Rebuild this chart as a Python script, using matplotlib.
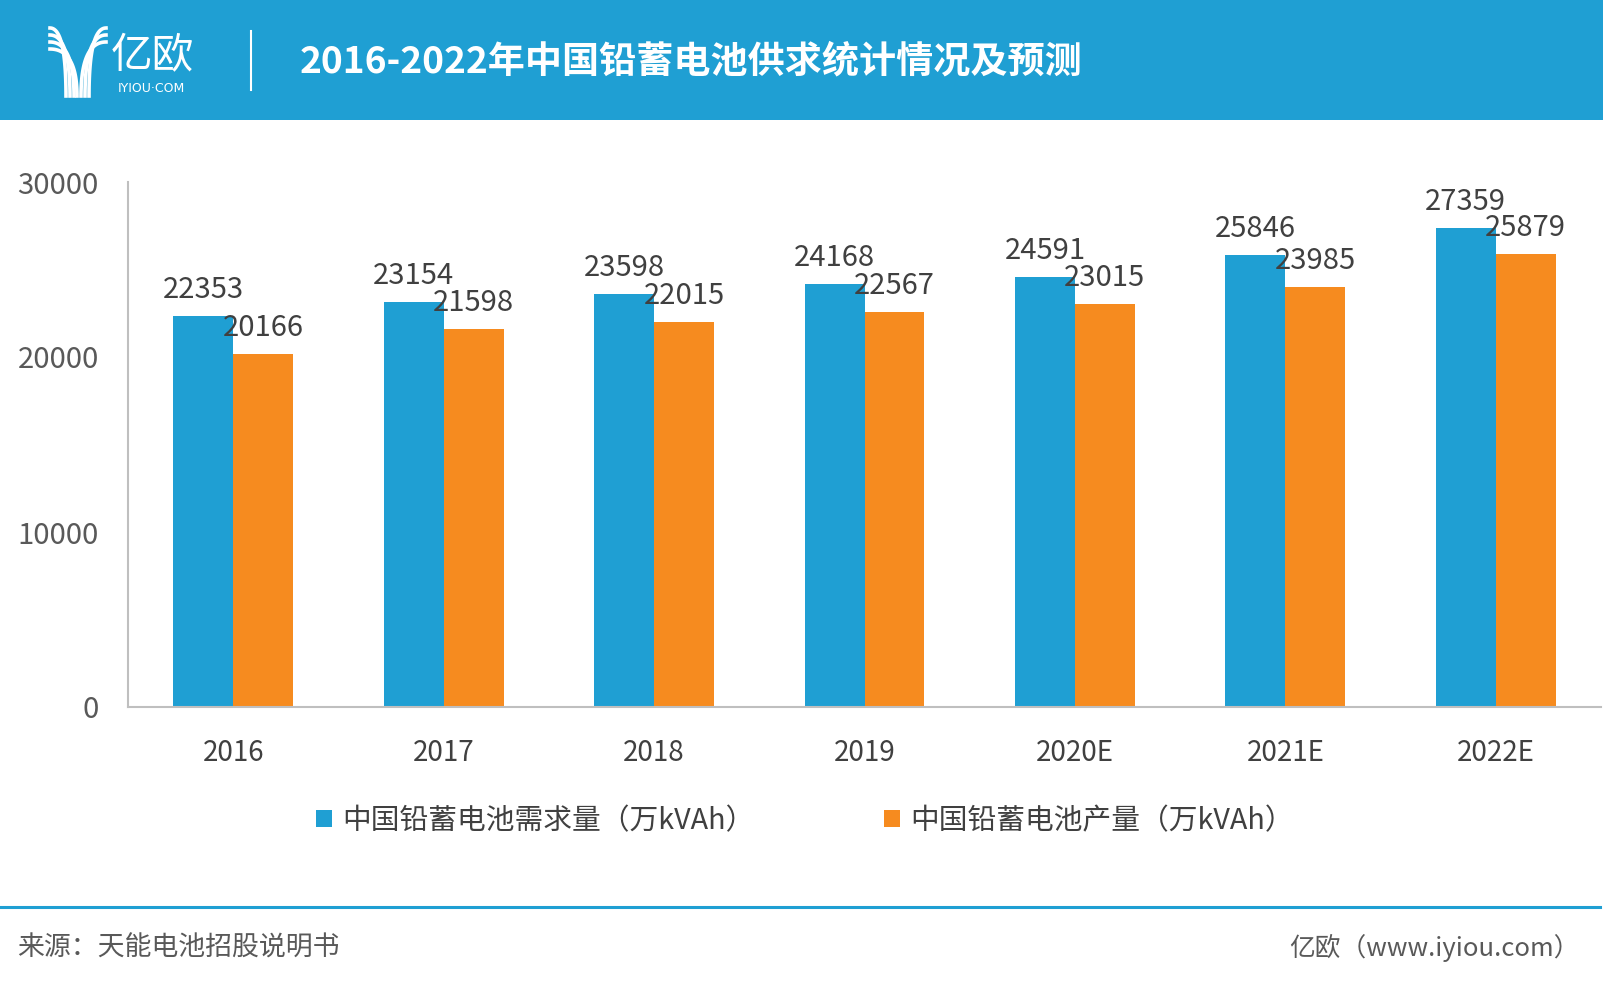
"""2016-2022 China lead-acid battery supply/demand chart (iyiou style)."""
import numpy as np
import matplotlib.pyplot as plt
from matplotlib.patches import Rectangle
from matplotlib.lines import Line2D

plt.rcParams["font.family"] = ["Noto Sans CJK SC", "DejaVu Sans"]

BLUE = "#1f9fd3"
ORANGE = "#f68b1f"
TEXT = "#404040"
GREY = "#595959"

YEARS = ["2016", "2017", "2018", "2019", "2020E", "2021E", "2022E"]
DEMAND = [22353, 23154, 23598, 24168, 24591, 25846, 27359]
OUTPUT = [20166, 21598, 22015, 22567, 23015, 23985, 25879]
SERIES_NAMES = ["中国铅蓄电池需求量（万kVAh）", "中国铅蓄电池产量（万kVAh）"]

TITLE = "2016-2022年中国铅蓄电池供求统计情况及预测"
SOURCE = "来源：天能电池招股说明书"
CREDIT = "亿欧（www.iyiou.com）"

W, H = 1603, 986


def fx(px):
    return px / W


def fy(py):
    return 1 - py / H


def draw_logo(fig):
    """Rough white 'Y' logo made of curved strokes, in pixel coords."""
    t = np.linspace(0, 1, 40)
    lw = 2.6
    # left strokes: start near horizontal at the left, bend down into the stem
    for y0, xs in [(28, 66), (35, 70), (42, 74), (49, 77)]:
        x0 = 50
        px = (1 - t) ** 2 * x0 + 2 * (1 - t) * t * xs + t ** 2 * xs
        py = (1 - t) ** 2 * y0 + 2 * (1 - t) * t * y0 + t ** 2 * 96
        fig.add_artist(Line2D(fx(px), fy(py), color="white", lw=lw,
                              transform=fig.transFigure))
    # right strokes
    for y0, xs in [(28, 89), (35, 85), (42, 81)]:
        x0 = 106
        px = (1 - t) ** 2 * x0 + 2 * (1 - t) * t * xs + t ** 2 * xs
        py = (1 - t) ** 2 * y0 + 2 * (1 - t) * t * y0 + t ** 2 * 96
        fig.add_artist(Line2D(fx(px), fy(py), color="white", lw=lw,
                              transform=fig.transFigure))
    fig.text(fx(111), fy(57), "亿欧", color="white", fontsize=30,
             fontweight="light", va="center", ha="left")
    fig.text(fx(118), fy(88), "IYIOU·COM", color="white", fontsize=9,
             va="center", ha="left", family=["DejaVu Sans"])


def main():
    fig = plt.figure(figsize=(W / 100, H / 100), dpi=100)

    # header band
    fig.add_artist(Rectangle((0, fy(120)), 1, 120 / H, transform=fig.transFigure,
                             facecolor=BLUE, edgecolor="none", zorder=0))
    draw_logo(fig)
    fig.add_artist(Line2D([fx(251), fx(251)], [fy(31), fy(90)], color="white",
                          lw=1.5, transform=fig.transFigure))
    fig.text(fx(300), fy(62), TITLE, color="white", fontsize=26.7,
             fontweight="bold", va="center", ha="left")

    ax = fig.add_axes([fx(128), fy(707), fx(1601) - fx(128), fy(182) - fy(707)])
    x = np.arange(len(YEARS))
    bw = 0.285
    b1 = ax.bar(x - bw / 2, DEMAND, bw, color=BLUE, label=SERIES_NAMES[0], zorder=2)
    b2 = ax.bar(x + bw / 2, OUTPUT, bw, color=ORANGE, label=SERIES_NAMES[1], zorder=2)

    for bars, vals in ((b1, DEMAND), (b2, OUTPUT)):
        for rect, v in zip(bars, vals):
            ax.annotate(f"{v}", (rect.get_x() + rect.get_width() / 2, v),
                        xytext=(0, 13), textcoords="offset points",
                        ha="center", va="baseline", fontsize=21,
                        fontweight="light", color=TEXT, zorder=3)

    ax.set_xlim(-0.5, len(YEARS) - 0.5)
    ax.set_ylim(0, 30000)
    ax.set_yticks([0, 10000, 20000, 30000])
    ax.set_xticks(x)
    ax.set_xticklabels(YEARS)
    ax.tick_params(axis="both", length=0, labelcolor=TEXT)
    ax.tick_params(axis="x", pad=22, labelsize=20)
    ax.tick_params(axis="y", pad=21, labelsize=21, labelcolor=GREY)
    for lab in ax.get_xticklabels() + ax.get_yticklabels():
        lab.set_fontweight("light")
    for side in ("top", "right"):
        ax.spines[side].set_visible(False)
    for side in ("left", "bottom"):
        ax.spines[side].set_color("#bfbfbf")
        ax.spines[side].set_linewidth(1.5)

    fig.legend(handles=[b1, b2], loc="center", bbox_to_anchor=(fx(805), fy(821)),
               ncol=2, frameon=False, fontsize=20.7, handlelength=0.55,
               handleheight=0.55, handletextpad=0.35, columnspacing=4.5,
               labelcolor=TEXT)

    # footer
    fig.add_artist(Line2D([0, fx(1600)], [fy(907), fy(907)], color=BLUE, lw=2.2,
                          transform=fig.transFigure))
    fig.text(fx(17), fy(948), SOURCE, color=GREY, fontsize=19.4, fontweight="light",
             va="center", ha="left")
    fig.text(fx(1580), fy(948), CREDIT, color=GREY, fontsize=18.5, fontweight="light",
             va="center", ha="right")

    fig.savefig("out.png", dpi=100)


if __name__ == "__main__":
    main()
